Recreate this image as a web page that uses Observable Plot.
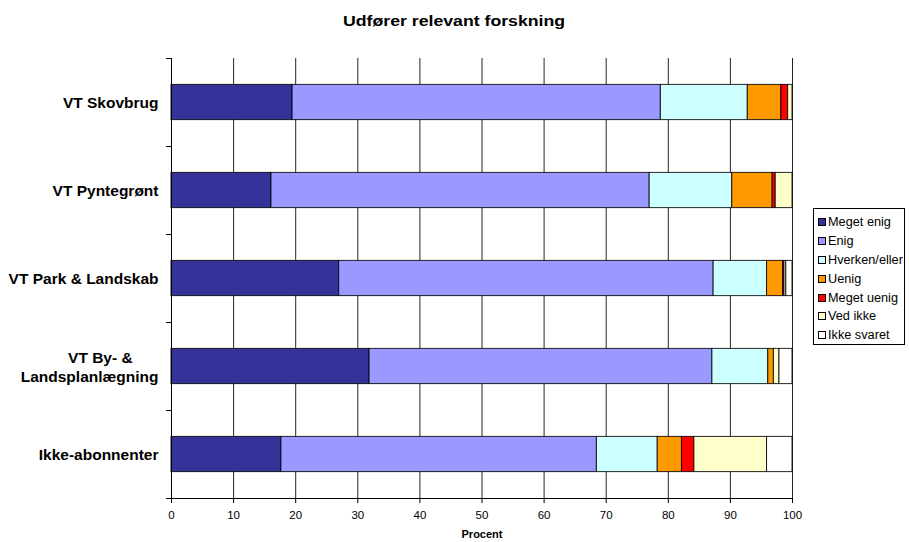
<!DOCTYPE html>
<html>
<head>
<meta charset="utf-8">
<script src="https://cdn.jsdelivr.net/npm/d3@7"></script>
<script src="https://cdn.jsdelivr.net/npm/@observablehq/plot@0.6"></script>
<style>
  html, body { margin: 0; padding: 0; background: #fff; }
  #wrap { position: relative; width: 909px; height: 542px; font-family: "Liberation Sans", Arial, sans-serif; }
  #title { height: 40px; line-height: 42px; text-align: center; font-weight: bold; font-size: 14.5px; color: #000; }
  #title span { display: inline-block; transform: scaleX(1.22); }
  #legend { position: absolute; left: 813px; top: 208px; width: 92px; height: 137px; border: 1px solid #000; box-sizing: border-box; padding: 4px 0 0 4px; font-size: 12px; color: #000; }
  .item { height: 18.8px; display: flex; align-items: center; white-space: nowrap; }
  .item span.t { display: inline-block; transform: scaleX(1.06); transform-origin: left center; }
  .sw { width: 8px; height: 8px; border: 1px solid #000; box-sizing: border-box; margin-right: 2px; flex: none; }
</style>
</head>
<body>
<div id="wrap">
  <div id="title"><span>Udfører relevant forskning</span></div>
  <div id="chart"></div>
  <div id="legend"></div>
</div>
<script>
const categories = ["VT Skovbrug", "VT Pyntegrønt", "VT Park & Landskab", "VT By- &\u00a0\u00a0\u00a0\u00a0\u00a0\u00a0\nLandsplanlægning", "Ikke-abonnenter"];
const seriesNames = ["Meget enig", "Enig", "Hverken/eller", "Uenig", "Meget uenig", "Ved ikke", "Ikke svaret"];
const seriesColors = ["#333399", "#9999ff", "#ccffff", "#ff9900", "#ff0000", "#ffffcc", "#ffffff"];
const megetEnig  = [19.5, 16.1, 27.0, 31.9, 17.7];
const enig       = [59.3, 60.9, 60.3, 55.2, 50.8];
const hverken    = [14.0, 13.3, 8.6, 9.0, 9.8];
const uenig      = [5.4, 6.5, 2.6, 0.9, 3.9];
const megetUenig = [1.1, 0.5, 0.2, 0.0, 2.0];
const vedIkke    = [0.7, 2.7, 0.3, 0.9, 11.7];
const ikkeSvaret = [0.0, 0.0, 1.0, 2.1, 4.1];
const xTicks = [0, 10, 20, 30, 40, 50, 60, 70, 80, 90, 100];

const seriesValues = [megetEnig, enig, hverken, uenig, megetUenig, vedIkke, ikkeSvaret];
const rows = [];
categories.forEach((cat, i) => {
  let acc = 0;
  seriesValues.forEach((vals, s) => {
    const v = vals[i];
    if (v > 0) rows.push({cat, idx: i, series: seriesNames[s], x1: acc, x2: acc + v});
    acc += v;
  });
});

const chart = Plot.plot({
  width: 909,
  height: 502,
  marginLeft: 171,
  marginRight: 117,
  marginTop: 18,
  marginBottom: 44,
  style: {fontFamily: "'Liberation Sans', Arial, sans-serif", fontSize: "11.5px", color: "#000", background: "#fff"},
  x: {domain: [0, 100]},
  y: {domain: [0, categories.length], reverse: true},
  color: {domain: seriesNames, range: seriesColors},
  marks: [
    Plot.gridX(xTicks.slice(1), {stroke: "#000", strokeOpacity: 0.85, strokeWidth: 1}),
    Plot.rect(rows, {x1: "x1", x2: "x2", y1: d => d.idx + 0.3, y2: d => d.idx + 0.7, fill: "series", stroke: "#000", strokeWidth: 1, strokeOpacity: 0.85}),
    Plot.ruleX([0], {stroke: "#000"}),
    Plot.ruleY([categories.length], {stroke: "#000"}),
    Plot.axisX(xTicks, {tickSize: 5, tickPadding: 7, fontSize: 11.5, label: null}),
    Plot.axisY(d3.range(0, categories.length + 1), {tickSize: 5, tickFormat: () => "", label: null}),
    Plot.text(categories, {x: 0, y: (d, i) => i + 0.5, text: d => d, textAnchor: "end", dx: -13, fontWeight: "bold", fontSize: 15.5, lineHeight: 1.2}),
    Plot.text(["Procent"], {frameAnchor: "bottom", text: d => d, dy: 39, fontWeight: "bold", fontSize: 11})
  ]
});
document.getElementById("chart").appendChild(chart);

const legend = document.getElementById("legend");
seriesNames.forEach((name, i) => {
  const it = document.createElement("div");
  it.className = "item";
  const sw = document.createElement("span");
  sw.className = "sw";
  sw.style.background = seriesColors[i];
  it.appendChild(sw);
  const t = document.createElement("span");
  t.className = "t";
  t.textContent = name;
  it.appendChild(t);
  legend.appendChild(it);
});
</script>
</body>
</html>
